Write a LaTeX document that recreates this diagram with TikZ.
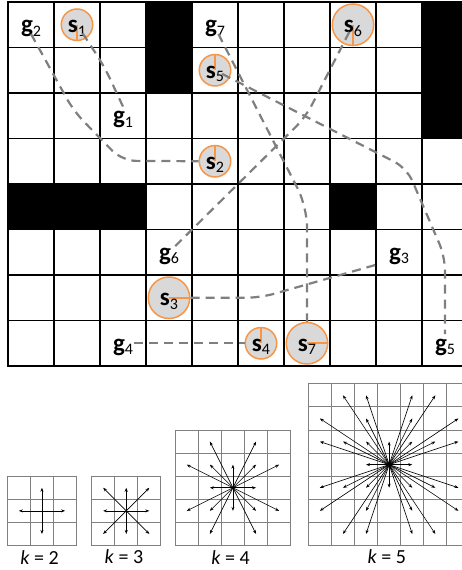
\documentclass[tikz,border=0pt]{standalone}
\usepackage{fontspec}
\setmainfont{Carlito}
\usepackage{tikz}
\usetikzlibrary{arrows.meta}
\definecolor{spotfill}{HTML}{D9D9D9}
\definecolor{spotline}{HTML}{F79646}
\definecolor{pathgray}{HTML}{7F7F7F}
\definecolor{gridgray}{HTML}{808080}
\tikzset{
  cellline/.style={line width=1.6pt},
  wall/.style={fill=black},
  goal/.style={inner sep=1pt, text height=16pt, text depth=0pt, font=\fontsize{25}{25}\selectfont},
  spot/.style={circle, goal, inner sep=0pt, minimum size=31.5pt, fill=spotfill, draw=spotline, line width=1.5pt,
    path picture={\draw[spotline, line width=2.2pt] (path picture bounding box.center) -- (path picture bounding box.#1);}},
  bigspot/.style={minimum size=41.5pt},
  route/.style={draw=pathgray, line width=2.2pt, dash pattern=on 9pt off 6pt, rounded corners=14pt},
  nbgrid/.style={draw=gridgray, line width=0.9pt, step=1},
  hop/.style={-{Stealth[length=4pt,width=3pt]}, line width=0.6pt},
  klab/.style={font=\fontsize{20}{20}\selectfont, inner sep=0pt},
}
\newcommand{\lab}[2]{\textbf{#1}\raisebox{-3.5pt}{\fontsize{16}{16}\selectfont #2}}
\newcommand{\nbhd}[4]{%
  \begin{scope}[shift={(#1,545.5)}, x=23.1pt, y=23.1pt]
    \draw[nbgrid] (0,0) grid (2*#2+1,2*#2+1);
    \foreach \a/\b in {#3}
      \foreach \rot in {0,90,180,270}
        \draw[hop, shift={(#2+0.5,#2+0.5)}, rotate=\rot] (0,0) -- (\a,\b);
    \node[klab] (k#4) at (#2+0.4,-0.5) {\textit{k} = #4};
  \end{scope}}

\begin{document}
\begin{tikzpicture}[x=1pt,y=-1pt]
  \useasboundingbox (0,0) rectangle (462,570);
  \clip (0,0) rectangle (462,570);
  \begin{scope}[shift={(8,2)}, x=46pt, y=-45.5pt]
    \foreach \x/\y/\w/\h in {3/0/1/2, 9/0/1/3, 0/4/3/1, 7/4/1/1}
      \fill[wall] (\x,\y) rectangle ++(\w,\h);
    \foreach \c in {1,...,9} \draw[cellline] (\c,0) -- (\c,8);
    \foreach \r in {1,...,7} \draw[cellline] (0,\r) -- (10,\r);
    \draw[cellline] (0,0) rectangle (10,8);
    \foreach \i/\c/\r in {1/2/2, 2/0/0, 3/8/5, 4/2/7, 5/9/7, 6/3/5, 7/4/0}
      \node[goal] (g\i) at (\c+0.5,\r+0.5) {\lab{g}{\i}};
    \foreach \i/\c/\r/\d in {1/1/0/south, 2/4/3/north, 4/5/7/north, 5/4/1/north}
      \node[spot=\d] (s\i) at (\c+0.5,\r+0.5) {\lab{s}{\i}};
    \foreach \i/\c/\r/\d in {3/3/6/east, 6/7/0/south, 7/6/7/east}
      \node[spot=\d, bigspot] (s\i) at (\c+0.5,\r+0.5) {\lab{s}{\i}};
    \draw[route] (g2.south) -- (1.43,2.40) -- (2.48,3.49) -- (s2.west);
    \draw[route, shorten <=10pt] (s1.center) -- (2.09,1.41) -- (g1.north);
    \draw[route, rounded corners=20pt] (g7.-70) -- (6.5,4.5) -- (s7.north);
    \draw[route, shorten <=8pt] (s5.center) -- (8.67,3.65) -- (9.5,5.6) -- (g5.north);
    \draw[route, shorten <=8pt, shorten >=4pt] (s6.center) -- (6.47,2.53) -- (g6.center);
    \draw[route, shorten >=10pt] (s3.east) -- (5.48,6.5) -- (g3.south west);
    \draw[route] (g4.east) -- (s4.west);
  \end{scope}
  \nbhd{7.3}{1}{1/0}{2}
  \nbhd{91.6}{1}{1/0, 1/1}{3}
  \nbhd{175.2}{2}{1/0, 1/1, 2/1, 1/2}{4}
  \nbhd{308.3}{3}{1/0, 1/1, 2/1, 1/2, 3/1, 1/3, 3/2, 2/3}{5}
\end{tikzpicture}
\end{document}
